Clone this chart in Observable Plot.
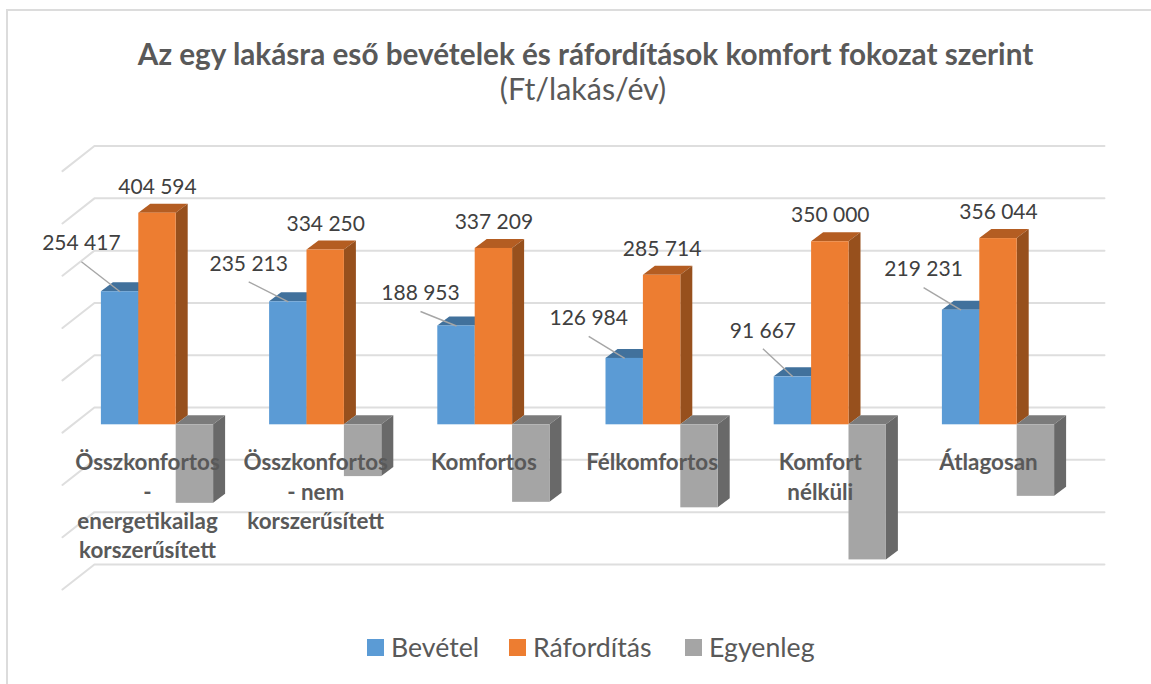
<!DOCTYPE html>
<html lang="hu">
<head>
<meta charset="utf-8">
<script src="https://cdn.jsdelivr.net/npm/d3@7"></script>
<script src="https://cdn.jsdelivr.net/npm/@observablehq/plot@0.6"></script>
<style>
  html, body { margin: 0; background: #fff; }
  body { width: 1151px; height: 684px; overflow: hidden; position: relative; font-family: Lato, sans-serif; }
  #frame { position: absolute; left: 6px; top: 9px; right: -5px; bottom: -5px; border: 2px solid #dcdcdc; }
  #head { position: absolute; left: 0; top: 36px; width: 1171px; text-align: center; color: #595959; }
  #title { font-size: 29.7px; font-weight: 700; line-height: 36px; }
  #subtitle { font-size: 30.4px; line-height: 32px; padding-right: 5px; }
  #chart { position: absolute; left: 0; top: 110px; }
  #chart svg { display: block; }
  #legend { position: absolute; top: 630px; left: 367px; display: flex; color: #595959; font-size: 26.7px; line-height: 34px; }
  .item { display: flex; align-items: center; position: absolute; white-space: nowrap; }
  .swatch { width: 17px; height: 17px; margin-right: 7px; }
</style>
</head>
<body>
<div id="frame"></div>
<div id="head">
  <div id="title">Az egy lakásra eső bevételek és ráfordítások komfort fokozat szerint</div>
  <div id="subtitle">(Ft/lakás/év)</div>
</div>
<div id="chart"></div>
<div id="legend"></div>
<script>
// --- data ---
const categories = [
  "Összkonfortos\n-\nenergetikailag\nkorszerűsített",
  "Összkonfortos\n- nem\nkorszerűsített",
  "Komfortos",
  "Félkomfortos",
  "Komfort\nnélküli",
  "Átlagosan"
];
const bevetel    = [254417, 235213, 188953, 126984, 91667, 219231];
const raforditas = [404594, 334250, 337209, 285714, 350000, 356044];
const egyenleg   = [-150177, -99037, -148256, -158730, -258333, -136813];
const gridValues = [-300000, -200000, -100000, 0, 100000, 200000, 300000, 400000, 500000];
const seriesNames = ["Bevétel", "Ráfordítás", "Egyenleg"];

// --- styles ---
const front = ["#5b9bd5", "#ed7d31", "#a5a5a5"];
const top3d = ["#41719c", "#b45d22", "#7b7b7b"];
const side3d = ["#3f6f9c", "#97501d", "#696969"];

// --- layout, in scale units ---
const pxX = 1 / 168.2, pxY = 1 / 0.000523;         // one screen pixel in x and y units
const barW = 37.4 * pxX, depthX = 12 * pxX, depthY = 9 * pxY;
const wallFront = -0.565, wallBack = -0.375, wallRight = 5.63;
const wallFrontDrop = -15000, wallBackRise = 33000;
const blueLabelDx = [-38.7, -39.6, -36, -36, -30, -37.5];
const blueLabelDy = [-48, -38, -32.5, -40, -46, -40.6];

const fmt = d3.formatLocale({thousands: " ", grouping: [3], decimal: ","}).format(",d");

function bar3d(values, k) {
  const x1 = i => i + (k - 1.5) * barW, x2 = i => x1(i) + barW;
  const rows = values.map((v, i) => ({i, v, x1: x1(i), x2: x2(i)}));
  const base = rows.map(d => ({...d, lo: Math.min(d.v, 0), hi: Math.max(d.v, 0)}));
  const sidePts = base.flatMap(d => [
    {i: d.i, x: d.x2, y1: d.lo, y2: d.hi},
    {i: d.i, x: d.x2 + depthX, y1: d.lo + depthY, y2: d.hi + depthY}
  ]);
  const topPts = base.flatMap(d => [
    {i: d.i, y: d.hi, x1: d.x1, x2: d.x2},
    {i: d.i, y: d.hi + depthY, x1: d.x1 + depthX, x2: d.x2 + depthX}
  ]);
  return [
    Plot.areaX(topPts, {y: "y", x1: "x1", x2: "x2", z: "i", fill: top3d[k]}),
    Plot.areaY(sidePts, {x: "x", y1: "y1", y2: "y2", z: "i", fill: side3d[k]}),
    Plot.rect(base, {x1: "x1", x2: "x2", y1: "lo", y2: "hi", fill: front[k]})
  ];
}

const wallLines = gridValues.flatMap(v => [
  {v, x: wallFront, y: v + wallFrontDrop},
  {v, x: wallBack, y: v + wallBackRise},
  {v, x: wallRight, y: v + wallBackRise}
]);

const blueTop = i => ({x: i - barW, y: bevetel[i]});
const blueLabels = bevetel.map((v, i) => ({
  v,
  x: blueTop(i).x + blueLabelDx[i] * pxX,
  y: v - blueLabelDy[i] * pxY
}));
const leaders = bevetel.map((v, i) => ({
  x1: blueLabels[i].x,
  y1: blueLabels[i].y - 18 * pxY,
  x2: blueTop(i).x,
  y2: v
}));
const orangeLabels = raforditas.map((v, i) => ({v, x: i, y: v + 26 * pxY}));
const catLabels = categories.map((c, i) => ({c, x: i - 10 * pxX, y: -47000}));

const chart = Plot.plot({
  width: 1151,
  height: 510,
  marginLeft: 0, marginRight: 0, marginTop: 0, marginBottom: 0,
  x: {type: "linear", domain: [0, 5], range: [157, 998], axis: null},
  y: {type: "linear", domain: [0, 100000], range: [314.3, 262], axis: null},
  style: {background: "transparent", fontFamily: "Lato, sans-serif", overflow: "visible"},
  marks: [
    Plot.line(wallLines, {x: "x", y: "y", z: "v", stroke: "#dedede", strokeWidth: 2, strokeLinejoin: "miter"}),
    ...bar3d(bevetel, 0),
    ...bar3d(raforditas, 1),
    ...bar3d(egyenleg, 2),
    Plot.link(leaders, {x1: "x1", y1: "y1", x2: "x2", y2: "y2", stroke: "#a6a6a6", strokeWidth: 1.4}),
    Plot.text(blueLabels, {x: "x", y: "y", text: d => fmt(d.v), fill: "#404040", fontSize: 21}),
    Plot.text(orangeLabels, {x: "x", y: "y", text: d => fmt(d.v), fill: "#404040", fontSize: 21}),
    Plot.text(catLabels, {x: "x", y: "y", text: "c", lineAnchor: "top", lineHeight: 1.31, fill: "#595959", fontSize: 22.4, fontWeight: 700})
  ]
});
document.getElementById("chart").append(chart);

const legendLefts = [0, 142, 318];
const legend = document.getElementById("legend");
seriesNames.forEach((name, k) => {
  const item = document.createElement("div");
  item.className = "item";
  item.style.left = legendLefts[k] + "px";
  const sw = document.createElement("span");
  sw.className = "swatch";
  sw.style.background = front[k];
  item.append(sw, name);
  legend.append(item);
});
</script>
</body>
</html>
